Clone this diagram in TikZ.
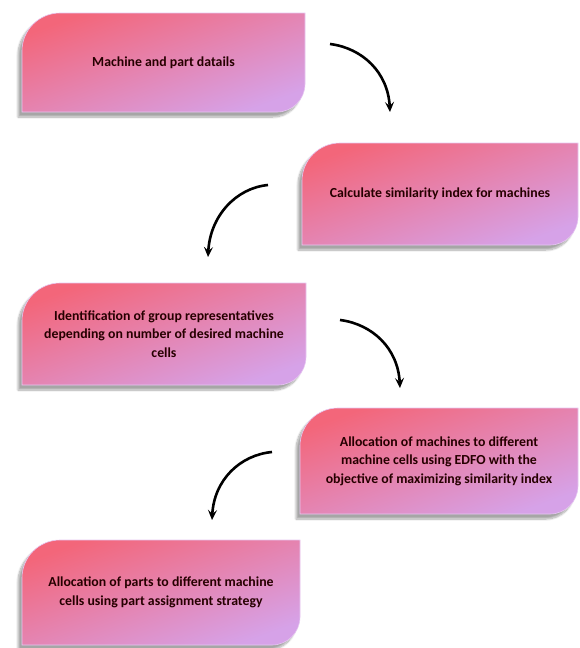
\documentclass[tikz,border=0pt]{standalone}
\usepackage{fontspec}
\setmainfont{Carlito}
\usepackage{xcolor}
\usetikzlibrary{arrows.meta}
\usetikzlibrary{shadows.blur}
\definecolor{salmon}{RGB}{243,102,122}
\definecolor{lavender}{RGB}{214,162,232}
\tikzstyle{leaf} = [draw=lavender!60!white, line width=0.6pt, top color=salmon, bottom color=lavender, shading angle=20,
  blur shadow={shadow xshift=-4pt, shadow yshift=-5pt, shadow opacity=35, shadow blur steps=10}]
\tikzstyle{steptext} = [align=center, font=\bfseries\fontsize{13.8}{18.5}\selectfont, text=black!85!red]
\tikzstyle{curvearrow} = [line width=2.6pt, -{Stealth[length=10pt, width=9pt, inset=4pt]}]
% box with rounded top-left and bottom-right corners (#3, #5 measured downwards)
\newcommand{\leafbox}[6]{%
  \path[leaf] (#2,{-(#3+38)}) arc[start angle=180, end angle=90, radius=38] -- (#4,{-(#3)})
    -- (#4,{-(#5-28)}) arc[start angle=0, end angle=-90, radius=28] -- (#2,{-(#5)}) -- cycle;
  \node[steptext] (#1) at ({(#2+#4)/2},{-(#3+#5)/2}) {#6};}
\begin{document}
\begin{tikzpicture}[x=1pt, y=1pt]
        \useasboundingbox (0,-648) rectangle (580,0);

        % Boxes
        \leafbox{s_1}{22}{13}{305}{112}{Machine and part datails}
        \leafbox{s_2}{302}{143}{578}{245}{Calculate similarity index for machines}
        \leafbox{s_3}{22}{283}{306}{385}{Identification of group representatives\\depending on number of desired machine\\cells}
        \leafbox{s_4}{300}{408}{578}{514}{Allocation of machines to different\\machine cells using EDFO with the\\objective of maximizing similarity index}
        \leafbox{s_5}{22}{540}{300}{645}{Allocation of parts to different machine\\cells using part assignment strategy}

        % Arrow ends
        \coordinate (a_1) at (330,-44);
        \coordinate (b_1) at (390,-112);
        \coordinate (a_2) at (268,-185);
        \coordinate (b_2) at (208,-257);
        \coordinate (a_3) at (340,-320);
        \coordinate (b_3) at (400,-388);
        \coordinate (a_4) at (272,-452);
        \coordinate (b_4) at (212,-520);

        % Curved arrows
        \draw[curvearrow] (a_1) .. controls (362,-48) and (388,-72) .. (b_1);
        \draw[curvearrow] (a_2) .. controls (236,-188) and (210,-216) .. (b_2);
        \draw[curvearrow] (a_3) .. controls (372,-324) and (398,-348) .. (b_3);
        \draw[curvearrow] (a_4) .. controls (240,-455) and (214,-480) .. (b_4);
     \end{tikzpicture}
\end{document}
